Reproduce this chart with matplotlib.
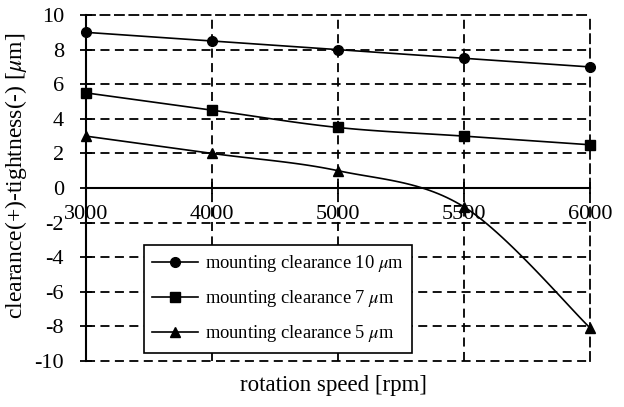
import numpy as np
import matplotlib
matplotlib.use("Agg")
import matplotlib.pyplot as plt

plt.rcParams['font.family'] = ['Liberation Serif', 'DejaVu Serif']
plt.rcParams['mathtext.fontset'] = 'stix'
plt.rcParams['axes.unicode_minus'] = False

# data
speeds = ['3000', '4000', '5000', '5500', '6000']
clear_10 = [9.0, 8.5, 8.0, 7.5, 7.0]
clear_7 = [5.5, 4.5, 3.5, 3.0, 2.5]
clear_5 = [3.0, 2.0, 1.0, -1.1, -8.1]
labels = [r'mounting clearance 10 $\mu$m',
          r'mounting clearance 7 $\mu$m',
          r'mounting clearance 5 $\mu$m']
markers = ['o', 's', '^']


def smooth(y, n=30):
    # catmull-rom style smoothing like the spreadsheet "smoothed line"
    y = np.asarray(y, float)
    x = np.arange(len(y), dtype=float)
    P = np.column_stack([x, y])
    P = np.vstack([P[0], P, P[-1]])
    out = []
    t = np.linspace(0, 1, n)[:, None]
    for i in range(1, len(P) - 2):
        p0, p1, p2, p3 = P[i - 1], P[i], P[i + 1], P[i + 2]
        c1 = p1 + (p2 - p0) / 6
        c2 = p2 - (p3 - p1) / 6
        seg = ((1 - t) ** 3) * p1 + 3 * ((1 - t) ** 2) * t * c1 + 3 * (1 - t) * t ** 2 * c2 + t ** 3 * p2
        out.append(seg)
    seg = np.vstack(out)
    return seg[:, 0], seg[:, 1]


fig = plt.figure(figsize=(6.24, 4.07), dpi=100)
ax = fig.add_axes([0.138, 0.113, 0.808, 0.850])

xs = np.arange(len(speeds))
handles = []
for ys, m, lab in zip([clear_10, clear_7, clear_5], markers, labels):
    sx, sy = smooth(ys)
    ax.plot(sx, sy, color='black', lw=1.2, zorder=3)
    ax.plot(xs, ys, ls='none', marker=m, color='black', ms=7, zorder=4, clip_on=False)
    h, = ax.plot([], [], color='black', lw=1.2, marker=m, ms=7, label=lab)
    handles.append(h)

ax.set_xlim(0, 4)
ax.set_ylim(-10, 10)
ax.set_yticks(np.arange(-10, 11, 2))
ax.set_xticks(xs)
ax.set_xticklabels(speeds)

# dashed grid
for yv in np.arange(-8, 10, 2):
    if yv != 0:
        ax.axhline(yv, color='black', ls=(0, (5, 3)), lw=1.3, zorder=1)
for xv in xs[1:-1]:
    ax.axvline(xv, color='black', ls=(0, (5, 3)), lw=1.3, zorder=1)

for s in ['top', 'right']:
    ax.spines[s].set_linestyle((0, (5, 3)))
    ax.spines[s].set_linewidth(1.3)
ax.spines['left'].set_linewidth(1.5)
ax.spines['bottom'].set_position(('data', 0))
ax.spines['bottom'].set_linewidth(1.5)
ax.axhline(-10, color='black', ls=(0, (5, 3)), lw=1.3, clip_on=False, zorder=1)

ax.tick_params(axis='y', direction='inout', length=8, width=1.3, labelsize=16, pad=12)
ax.tick_params(axis='x', direction='inout', length=8, width=1.3, labelsize=16, pad=8)

ax.set_ylabel(r'clearance(+)-tightness(-) [$\mu$m]', fontsize=17)
ax.yaxis.set_label_coords(29 / 624, 1 - 176 / 407, transform=fig.transFigure)
fig.text(334 / 624, 1 - 385 / 407, 'rotation speed [rpm]', ha='center', va='center', fontsize=16.5)

leg = ax.legend(handles=handles, loc='upper left', bbox_to_anchor=(144 / 624, 1 - 245 / 407),
                bbox_transform=fig.transFigure, fontsize=13.3, frameon=True, fancybox=False,
                edgecolor='black', framealpha=1, handlelength=2.5, borderpad=0.45,
                labelspacing=0.76, handletextpad=0.35, borderaxespad=0)
leg.get_frame().set_linewidth(1.2)
leg.set_zorder(5)

plt.savefig('out.png', dpi=100)
